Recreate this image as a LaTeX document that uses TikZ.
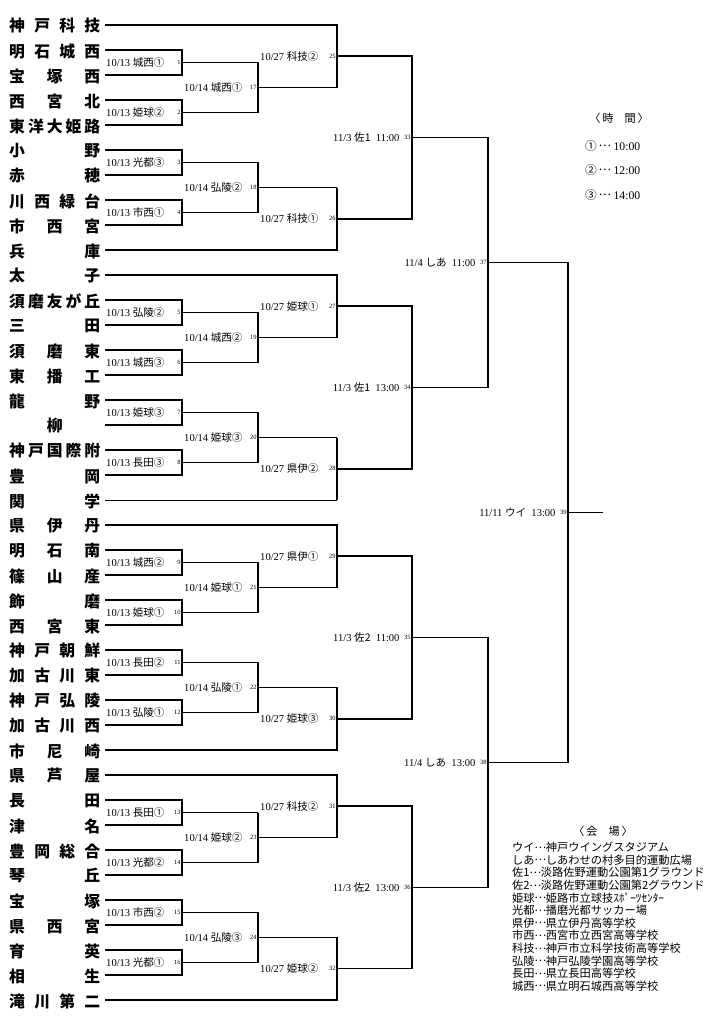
\documentclass[tikz,border=0pt]{standalone}
\usepackage{fontspec}
\setmainfont{Liberation Serif}
\newfontfamily\jp{Noto Sans CJK JP}
\usetikzlibrary{calc}

\tikzset{
  team/.style={anchor=west, inner sep=0pt, font=\jp\bfseries\fontsize{13.5}{14}\selectfont},
  game/.style={anchor=west, inner sep=0pt, font=\fontsize{9}{10}\selectfont},
  gno/.style={anchor=east, inner sep=1pt, font=\fontsize{5.5}{6}\selectfont},
  ln/.style={line width=1.4pt},
  thinln/.style={line width=0.6pt},
}
\newcommand{\nm}[1]{\makebox[2.73cm]{#1}}
\newcommand{\tdots}{{\jp\makebox[1em]{\raisebox{0.3em}{…}}}}

\begin{document}
\begin{tikzpicture}[x=0.03cm, y=-0.03cm]
\useasboundingbox (0,0) rectangle (712,1024);

% school names
\node[team] (n0) at (9,26) {\nm{神\hfill 戸\hfill 科\hfill 技}};
\node[team] (n1) at (9,51) {\nm{明\hfill 石\hfill 城\hfill 西}};
\node[team] (n2) at (9,76) {\nm{宝\hfill 塚\hfill 西}};
\node[team] (n3) at (9,101) {\nm{西\hfill 宮\hfill 北}};
\node[team] (n4) at (9,126) {\nm{東\hfill 洋\hfill 大\hfill 姫\hfill 路}};
\node[team] (n5) at (9,151) {\nm{小\hfill 野}};
\node[team] (n6) at (9,176) {\nm{赤\hfill 穂}};
\node[team] (n7) at (9,201) {\nm{川\hfill 西\hfill 緑\hfill 台}};
\node[team] (n8) at (9,226) {\nm{市\hfill 西\hfill 宮}};
\node[team] (n9) at (9,251) {\nm{兵\hfill 庫}};
\node[team] (n10) at (9,276) {\nm{太\hfill 子}};
\node[team] (n11) at (9,301) {\nm{須\hfill 磨\hfill 友\hfill が\hfill 丘}};
\node[team] (n12) at (9,326) {\nm{三\hfill 田}};
\node[team] (n13) at (9,351) {\nm{須\hfill 磨\hfill 東}};
\node[team] (n14) at (9,376) {\nm{東\hfill 播\hfill 工}};
\node[team] (n15) at (9,401) {\nm{龍\hfill 野}};
\node[team] (n16) at (9,426) {\nm{柳}};
\node[team] (n17) at (9,451) {\nm{神\hfill 戸\hfill 国\hfill 際\hfill 附}};
\node[team] (n18) at (9,476) {\nm{豊\hfill 岡}};
\node[team] (n19) at (9,501) {\nm{関\hfill 学}};
\node[team] (n20) at (9,526) {\nm{県\hfill 伊\hfill 丹}};
\node[team] (n21) at (9,551) {\nm{明\hfill 石\hfill 南}};
\node[team] (n22) at (9,576) {\nm{篠\hfill 山\hfill 産}};
\node[team] (n23) at (9,601) {\nm{飾\hfill 磨}};
\node[team] (n24) at (9,626) {\nm{西\hfill 宮\hfill 東}};
\node[team] (n25) at (9,651) {\nm{神\hfill 戸\hfill 朝\hfill 鮮}};
\node[team] (n26) at (9,676) {\nm{加\hfill 古\hfill 川\hfill 東}};
\node[team] (n27) at (9,701) {\nm{神\hfill 戸\hfill 弘\hfill 陵}};
\node[team] (n28) at (9,726) {\nm{加\hfill 古\hfill 川\hfill 西}};
\node[team] (n29) at (9,751) {\nm{市\hfill 尼\hfill 崎}};
\node[team] (n30) at (9,776) {\nm{県\hfill 芦\hfill 屋}};
\node[team] (n31) at (9,801) {\nm{長\hfill 田}};
\node[team] (n32) at (9,826) {\nm{津\hfill 名}};
\node[team] (n33) at (9,851) {\nm{豊\hfill 岡\hfill 総\hfill 合}};
\node[team] (n34) at (9,876) {\nm{琴\hfill 丘}};
\node[team] (n35) at (9,901) {\nm{宝\hfill 塚}};
\node[team] (n36) at (9,926) {\nm{県\hfill 西\hfill 宮}};
\node[team] (n37) at (9,951) {\nm{育\hfill 英}};
\node[team] (n38) at (9,976) {\nm{相\hfill 生}};
\node[team] (n39) at (9,1001) {\nm{滝\hfill 川\hfill 第\hfill 二}};

% line start of every school
\foreach \i in {0,...,39} \coordinate (t\i) at (105,25+25*\i);

% round 1
\coordinate (m1) at (182,62.5);
\coordinate (m2) at (182,112.5);
\coordinate (m3) at (182,162.5);
\coordinate (m4) at (182,212.5);
\coordinate (m5) at (182,312.5);
\coordinate (m6) at (182,362.5);
\coordinate (m7) at (182,412.5);
\coordinate (m8) at (182,462.5);
\coordinate (m9) at (182,562.5);
\coordinate (m10) at (182,612.5);
\coordinate (m11) at (182,662.5);
\coordinate (m12) at (182,712.5);
\coordinate (m13) at (182,812.5);
\coordinate (m14) at (182,862.5);
\coordinate (m15) at (182,912.5);
\coordinate (m16) at (182,962.5);
% round 2
\coordinate (m17) at (258,87.5);
\coordinate (m18) at (258,187.5);
\coordinate (m19) at (258,337.5);
\coordinate (m20) at (258,437.5);
\coordinate (m21) at (258,587.5);
\coordinate (m22) at (258,687.5);
\coordinate (m23) at (258,837.5);
\coordinate (m24) at (258,937.5);
% round 3
\coordinate (m25) at (337,56.25);
\coordinate (m26) at (337,218.75);
\coordinate (m27) at (337,306.25);
\coordinate (m28) at (337,468.75);
\coordinate (m29) at (337,556.25);
\coordinate (m30) at (337,718.75);
\coordinate (m31) at (337,806.25);
\coordinate (m32) at (337,968.75);
% quarter, semi, final
\coordinate (m33) at (412,137.5);
\coordinate (m34) at (412,387.5);
\coordinate (m35) at (412,637.5);
\coordinate (m36) at (412,887.5);
\coordinate (m37) at (488,262.5);
\coordinate (m38) at (488,762.5);
\coordinate (m39) at (568,512.5);
\coordinate (champ) at (603,512.5);

% brackets round 1
\draw[ln] (t1) -| (m1) |- (t2);
\draw[ln] (t3) -| (m2) |- (t4);
\draw[ln] (t5) -| (m3) |- (t6);
\draw[ln] (t7) -| (m4) |- (t8);
\draw[ln] (t11) -| (m5) |- (t12);
\draw[ln] (t13) -| (m6) |- (t14);
\draw[ln] (t15) -| (m7) |- (t16);
\draw[ln] (t17) -| (m8) |- (t18);
\draw[ln] (t21) -| (m9) |- (t22);
\draw[ln] (t23) -| (m10) |- (t24);
\draw[ln] (t25) -| (m11) |- (t26);
\draw[ln] (t27) -| (m12) |- (t28);
\draw[ln] (t31) -| (m13) |- (t32);
\draw[ln] (t33) -| (m14) |- (t34);
\draw[ln] (t35) -| (m15) |- (t36);
\draw[ln] (t37) -| (m16) |- (t38);
% brackets round 2
\draw[ln] (m1) -| (m17) |- (m2);
\draw[ln] (m3) -| (m18) |- (m4);
\draw[ln] (m5) -| (m19) |- (m6);
\draw[ln] (m7) -| (m20) |- (m8);
\draw[ln] (m9) -| (m21) |- (m10);
\draw[ln] (m11) -| (m22) |- (m12);
\draw[thinln] (m13) -- (m13 -| m23);
\draw[ln] (m13 -| m23) |- (m14);
\draw[ln] (m15) -| (m24) |- (m16);
% brackets round 3
\draw[ln] (t0) -| (m25) |- (m17);
\draw[thinln] (m18) -- (m18 -| m26);
\draw[ln] (m18 -| m26) |- (t9);
\draw[ln] (t10) -| (m27) |- (m19);
\draw[thinln] (m20) -- (m20 -| m28);
\draw[thinln] (t19) -- (t19 -| m28);
\draw[ln] (m20 -| m28) -- (t19 -| m28);
\draw[ln] (t20) -| (m29) |- (m21);
\draw[ln] (m22) -| (m30) |- (t29);
\draw[ln] (t30) -| (m31) |- (m23);
\draw[ln] (m24) -| (m32) |- (t39);
% quarter finals
\draw[ln] (m25) -| (m33) |- (m26);
\draw[ln] (m27) -| (m34) |- (m28);
\draw[ln] (m29) -| (m35) |- (m30);
\draw[ln] (m31) -| (m32 -| m36);
\draw[thinln] (m32) -- (m32 -| m36);
% semi finals and final
\draw[ln] (m33) -| (m37) |- (m34);
\draw[ln] (m35) -| (m38) |- (m36);
\draw[ln] (m37) -| (m39) |- (m38);
\draw[ln] (m39) -- (champ);

% game numbers
\foreach \n in {1,...,39} \node[gno] (g\n) at (m\n) {\n};

% dates round 1
\node[game] (d1) at (106,62.5) {10/13 \jp 城西①};
\node[game] (d2) at (106,112.5) {10/13 \jp 姫球②};
\node[game] (d3) at (106,162.5) {10/13 \jp 光都③};
\node[game] (d4) at (106,212.5) {10/13 \jp 市西①};
\node[game] (d5) at (106,312.5) {10/13 \jp 弘陵②};
\node[game] (d6) at (106,362.5) {10/13 \jp 城西③};
\node[game] (d7) at (106,412.5) {10/13 \jp 姫球③};
\node[game] (d8) at (106,462.5) {10/13 \jp 長田③};
\node[game] (d9) at (106,562.5) {10/13 \jp 城西②};
\node[game] (d10) at (106,612.5) {10/13 \jp 姫球①};
\node[game] (d11) at (106,662.5) {10/13 \jp 長田②};
\node[game] (d12) at (106,712.5) {10/13 \jp 弘陵①};
\node[game] (d13) at (106,812.5) {10/13 \jp 長田①};
\node[game] (d14) at (106,862.5) {10/13 \jp 光都②};
\node[game] (d15) at (106,912.5) {10/13 \jp 市西②};
\node[game] (d16) at (106,962.5) {10/13 \jp 光都①};
% dates round 2
\node[game] (d17) at (184,87.5) {10/14 \jp 城西①};
\node[game] (d18) at (184,187.5) {10/14 \jp 弘陵②};
\node[game] (d19) at (184,337.5) {10/14 \jp 城西②};
\node[game] (d20) at (184,437.5) {10/14 \jp 姫球③};
\node[game] (d21) at (184,587.5) {10/14 \jp 姫球①};
\node[game] (d22) at (184,687.5) {10/14 \jp 弘陵①};
\node[game] (d23) at (184,837.5) {10/14 \jp 姫球②};
\node[game] (d24) at (184,937.5) {10/14 \jp 弘陵③};
% dates round 3
\node[game] (d25) at (260,56.25) {10/27 \jp 科技②};
\node[game] (d26) at (260,218.75) {10/27 \jp 科技①};
\node[game] (d27) at (260,306.25) {10/27 \jp 姫球①};
\node[game] (d28) at (260,468.75) {10/27 \jp 県伊②};
\node[game] (d29) at (260,556.25) {10/27 \jp 県伊①};
\node[game] (d30) at (260,718.75) {10/27 \jp 姫球③};
\node[game] (d31) at (260,806.25) {10/27 \jp 科技②};
\node[game] (d32) at (260,968.75) {10/27 \jp 姫球②};
% later rounds
\node[game, anchor=east] (d33) at ($(g33.west)+(-3,0)$) {11/3 {\jp 佐1}\ \ 11:00};
\node[game, anchor=east] (d34) at ($(g34.west)+(-3,0)$) {11/3 {\jp 佐1}\ \ 13:00};
\node[game, anchor=east] (d35) at ($(g35.west)+(-3,0)$) {11/3 {\jp 佐2}\ \ 11:00};
\node[game, anchor=east] (d36) at ($(g36.west)+(-3,0)$) {11/3 {\jp 佐2}\ \ 13:00};
\node[game, anchor=east] (d37) at ($(g37.west)+(-3,0)$) {11/4 {\jp しあ}\ \ 11:00};
\node[game, anchor=east] (d38) at ($(g38.west)+(-3,0)$) {11/4 {\jp しあ}\ \ 13:00};
\node[game, anchor=east] (d39) at ($(g39.west)+(-3,0)$) {11/11 {\jp ウイ}\ \ 13:00};

% time table
\node[font=\jp\fontsize{9.5}{10}\selectfont] (timehead) at (619,118) {〈\,時\quad 間\,〉};
\node[game, font=\fontsize{10}{11}\selectfont] (time1) at (585,146) {{\jp ①}\,\tdots\ 10:00};
\node[game, font=\fontsize{10}{11}\selectfont] (time2) at (585,170) {{\jp ②}\,\tdots\ 12:00};
\node[game, font=\fontsize{10}{11}\selectfont] (time3) at (585,195) {{\jp ③}\,\tdots\ 14:00};

% venues
\node[font=\jp\fontsize{9.5}{10}\selectfont] (venuehead) at (603,831) {〈\,会\quad 場\,〉};
\node[anchor=north west, inner sep=0pt, align=left, font=\jp\fontsize{9.6}{10.75}\selectfont] (venues) at (512,842) {ウイ\tdots 神戸ウイングスタジアム\\
しあ\tdots しあわせの村多目的運動広場\\
佐1\tdots 淡路佐野運動公園第1グラウンド\\
佐2\tdots 淡路佐野運動公園第2グラウンド\\
姫球\tdots 姫路市立球技ｽﾎﾟｰﾂｾﾝﾀｰ\\
光都\tdots 播磨光都サッカー場\\
県伊\tdots 県立伊丹高等学校\\
市西\tdots 西宮市立西宮高等学校\\
科技\tdots 神戸市立科学技術高等学校\\
弘陵\tdots 神戸弘陵学園高等学校\\
長田\tdots 県立長田高等学校\\
城西\tdots 県立明石城西高等学校};

\end{tikzpicture}
\end{document}
